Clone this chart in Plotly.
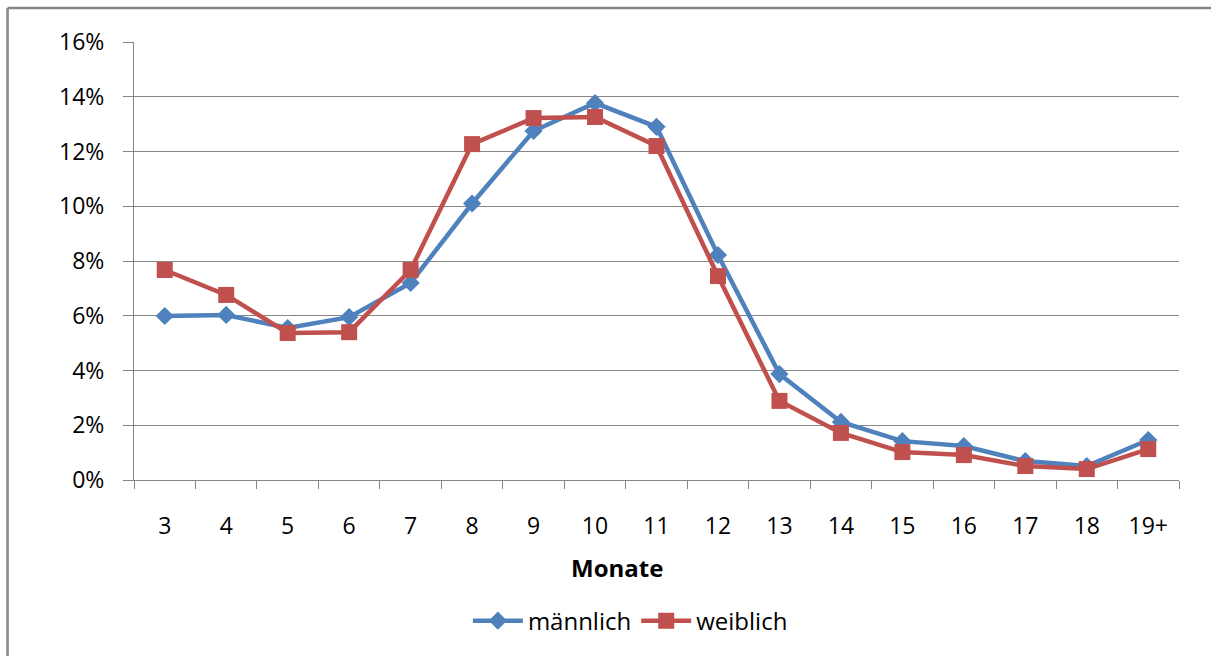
import plotly.graph_objects as go

# Altersverteilung in Monaten, Anteil je Geschlecht (%)
monate = ["3", "4", "5", "6", "7", "8", "9", "10", "11", "12",
          "13", "14", "15", "16", "17", "18", "19+"]
maennlich = [5.99, 6.03, 5.55, 5.95, 7.2, 10.1, 12.75, 13.77, 12.9, 8.22,
             3.87, 2.12, 1.42, 1.24, 0.69, 0.51, 1.46]
weiblich = [7.67, 6.76, 5.37, 5.4, 7.67, 12.27, 13.22, 13.26, 12.2, 7.45,
            2.89, 1.72, 1.02, 0.91, 0.51, 0.40, 1.13]
y_ticks = [0, 2, 4, 6, 8, 10, 12, 14, 16]

BLUE = "#4F81BD"
RED = "#C0504D"
GRID = "#868686"
FONT = "Open Sans, Liberation Sans, sans-serif"

fig = go.Figure()
fig.add_trace(go.Scatter(
    x=monate, y=maennlich, name="männlich", mode="lines+markers",
    line=dict(color=BLUE, width=4.5),
    marker=dict(symbol="diamond", size=14, color=BLUE),
))
fig.add_trace(go.Scatter(
    x=monate, y=weiblich, name="weiblich", mode="lines+markers",
    line=dict(color=RED, width=4.5),
    marker=dict(symbol="square", size=16, color=RED),
))

fig.update_layout(
    width=1211, height=656,
    margin=dict(l=134, r=32, t=42, b=176),
    paper_bgcolor="white", plot_bgcolor="white",
    font=dict(family=FONT, size=23, color="#000000"),
    showlegend=True,
    legend=dict(orientation="h", x=0.475, y=-0.322, xanchor="center", yanchor="middle",
                font=dict(family=FONT, size=24), itemwidth=50, traceorder="normal"),
    xaxis=dict(
        type="category", showgrid=False, showline=True, linecolor=GRID, linewidth=1,
        ticks="outside", tickson="boundaries", ticklen=8, tickcolor=GRID,
        ticklabelstandoff=25, tickfont=dict(family=FONT, size=23),
        range=[-0.5, len(monate) - 0.5], zeroline=False,
    ),
    yaxis=dict(
        range=[0, 16], tickvals=y_ticks, ticktext=[f"{v}%" for v in y_ticks],
        showgrid=True, gridcolor=GRID, gridwidth=1, showline=True, linecolor=GRID,
        ticks="outside", ticklen=10, tickcolor=GRID, zeroline=False,
        tickfont=dict(family=FONT, size=23), ticklabelstandoff=14,
    ),
    annotations=[dict(
        text="<b>Monate</b>", x=0.462, y=-0.2, xref="paper", yref="paper",
        showarrow=False, xanchor="center", yanchor="middle",
        font=dict(family=FONT, size=24),
    )],
    shapes=[
        dict(type="line", xref="paper", yref="paper", x0=-0.121, x1=-0.121, y0=-0.6, y1=1.0776,
             line=dict(color=GRID, width=2.5)),
        dict(type="line", xref="paper", yref="paper", x0=-0.121, x1=1.2, y0=1.0776, y1=1.0776,
             line=dict(color=GRID, width=2.5)),
    ],
)

fig.write_html("out.html")
